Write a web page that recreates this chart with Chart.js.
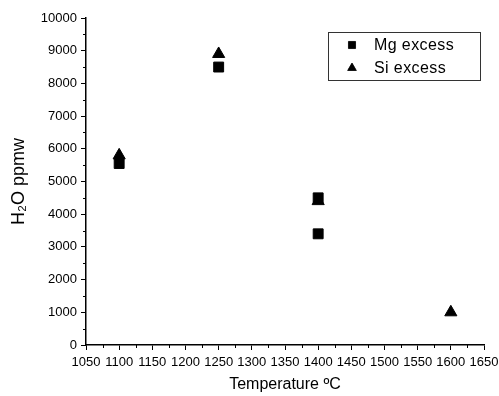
<!DOCTYPE html>
<html>
<head>
<meta charset="utf-8">
<script src="https://cdn.jsdelivr.net/npm/chart.js@4.4.0/dist/chart.umd.min.js"></script>
<style>
  html, body { margin: 0; padding: 0; background: #fff; }
  #wrap { width: 499px; height: 396px; }
</style>
</head>
<body>
<div id="wrap"><canvas id="waterChart" width="499" height="396"></canvas></div>
<script>
// 데이터: 온도(°C)와 H2O 함량(ppmw)
const mgTemps = [1100, 1250, 1400, 1400];
const mgWater = [5550, 8500, 4500, 3400];
const siTemps = [1100, 1250, 1400, 1600];
const siWater = [5800, 8900, 4400, 1000];

const xTicks = [1050, 1100, 1150, 1200, 1250, 1300, 1350, 1400, 1450, 1500, 1550, 1600, 1650];
const yTicks = [0, 1000, 2000, 3000, 4000, 5000, 6000, 7000, 8000, 9000, 10000];

const legendNames = ['Mg excess', 'Si excess'];

const FONT = 'Arial, "Liberation Sans", sans-serif';

function toPoints(xs, ys) {
  return xs.map((x, i) => ({ x: x, y: ys[i] }));
}

// 보조 눈금 (minor ticks) - scale의 픽셀 변환 사용
const minorTicks = {
  id: 'minorTicks',
  afterDraw(chart) {
    const ctx = chart.ctx;
    const xs = chart.scales.x, ys = chart.scales.y;
    ctx.save();
    ctx.strokeStyle = '#000';
    ctx.lineWidth = 1;
    ctx.beginPath();
    for (let v = xTicks[0] + 25; v < xTicks[xTicks.length - 1]; v += 50) {
      const px = Math.round(xs.getPixelForValue(v)) + 0.5;
      ctx.moveTo(px, ys.bottom);
      ctx.lineTo(px, ys.bottom + 3);
    }
    for (let v = yTicks[0] + 500; v < yTicks[yTicks.length - 1]; v += 1000) {
      const py = Math.round(ys.getPixelForValue(v)) + 0.5;
      ctx.moveTo(xs.left, py);
      ctx.lineTo(xs.left - 3, py);
    }
    ctx.stroke();
    ctx.restore();
  }
};

// 테두리가 있는 범례 상자
const boxLegend = {
  id: 'boxLegend',
  afterDraw(chart) {
    const ctx = chart.ctx;
    const left = 328, top = 32, w = 152, h = 48;
    ctx.save();
    ctx.strokeStyle = '#333';
    ctx.lineWidth = 1;
    ctx.strokeRect(left + 0.5, top + 0.5, w, h);
    ctx.font = '16px ' + FONT;
    ctx.letterSpacing = '0.4px';
    ctx.textBaseline = 'middle';
    chart.data.datasets.forEach((ds, i) => {
      const cy = top + 13 + i * 23;
      Chart.helpers.drawPoint(ctx, {
        pointStyle: ds.pointStyle, radius: 5, rotation: 0, borderWidth: 1
      }, left + 24, cy);
      ctx.fillStyle = '#000';
      ctx.fill();
      ctx.fillText(legendNames[i], left + 46, cy + 1);
    });
    ctx.restore();
  }
};

new Chart(document.getElementById('waterChart'), {
  type: 'scatter',
  data: {
    datasets: [
      {
        label: legendNames[0],
        data: toPoints(mgTemps, mgWater),
        pointStyle: 'rect',
        pointRadius: 7,
        backgroundColor: '#000',
        borderColor: '#000',
        borderWidth: 1
      },
      {
        label: legendNames[1],
        data: toPoints(siTemps, siWater),
        pointStyle: 'triangle',
        pointRadius: 7,
        backgroundColor: '#000',
        borderColor: '#000',
        borderWidth: 1
      }
    ]
  },
  options: {
    responsive: false,
    animation: false,
    layout: { padding: { top: 18, right: 15, left: 0, bottom: 0 } },
    plugins: {
      legend: { display: false },
      tooltip: { enabled: false }
    },
    scales: {
      x: {
        type: 'linear',
        min: 1050,
        max: 1650,
        afterBuildTicks(scale) {
          scale.ticks = xTicks.map(v => ({ value: v }));
        },
        afterFit(scale) {
          scale.height = 51;
          scale.paddingLeft = 0;
          scale.paddingRight = 0;
        },
        grid: { drawOnChartArea: false, tickLength: 5, color: '#000', tickColor: '#000' },
        border: { color: '#000', width: 1.5 },
        ticks: {
          color: '#000',
          font: { family: FONT, size: 13 },
          padding: 5,
          maxRotation: 0,
          autoSkip: false,
          callback: v => String(v)
        },
        title: {
          display: true,
          text: 'Temperature ºC',
          color: '#000',
          font: { family: FONT, size: 16 },
          padding: { top: 4, bottom: 2 }
        }
      },
      y: {
        type: 'linear',
        min: 0,
        max: 10000,
        afterBuildTicks(scale) {
          scale.ticks = yTicks.map(v => ({ value: v }));
        },
        afterFit(scale) {
          scale.width = 86;
          scale.paddingTop = 0;
          scale.paddingBottom = 0;
        },
        grid: { drawOnChartArea: false, tickLength: 5, color: '#000', tickColor: '#000' },
        border: { color: '#000', width: 1.5 },
        ticks: {
          color: '#000',
          font: { family: FONT, size: 13 },
          padding: 4,
          autoSkip: false,
          callback: v => String(v)
        },
        title: {
          display: true,
          text: 'H₂O ppmw',
          color: '#000',
          font: { family: FONT, size: 18 },
          padding: { top: 8, bottom: 4 }
        }
      }
    }
  },
  plugins: [minorTicks, boxLegend]
});
</script>
</body>
</html>
